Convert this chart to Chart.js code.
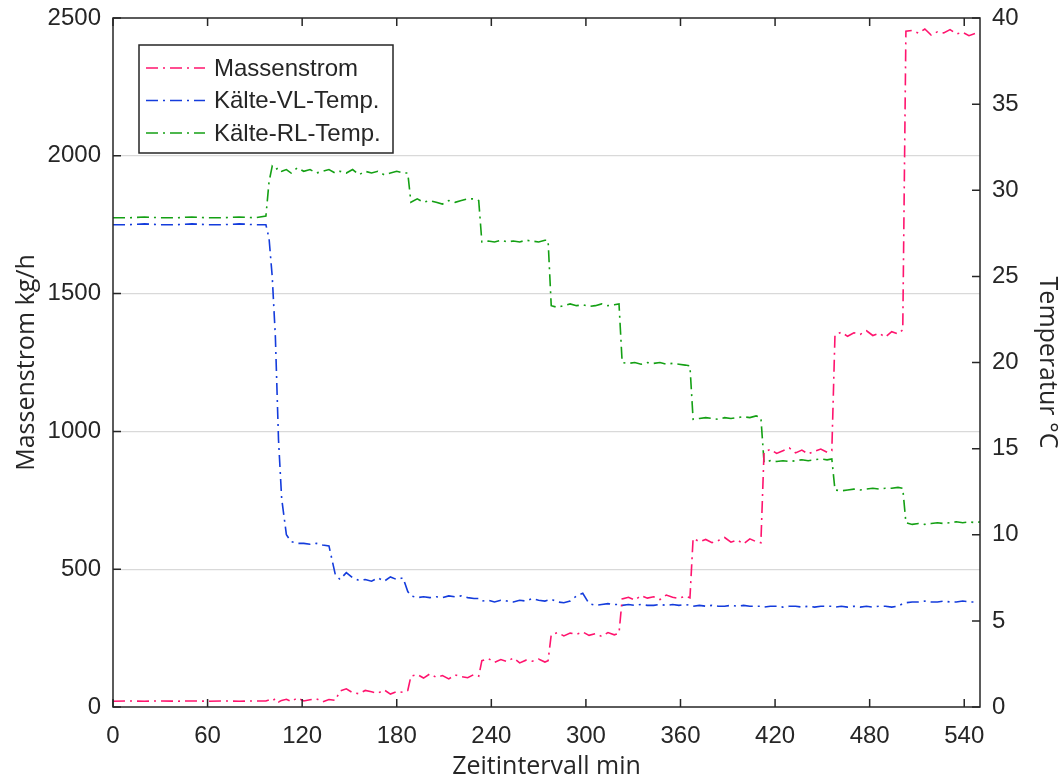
<!DOCTYPE html>
<html>
<head>
<meta charset="utf-8">
<script src="https://cdn.jsdelivr.net/npm/chart.js@4"></script>
<style>
  body { margin: 0; background: #fff; }
</style>
</head>
<body>
<canvas id="chart" width="1062" height="782"></canvas>
<script>
// Zeitachse in Minuten (gemeinsam für alle Reihen)
const zeit = [
  0, 10, 20, 30, 40, 50, 60, 70, 80, 90, 97,
  99, 101, 103, 105, 107, 110, 113, 117, 121, 125, 129, 133, 137, 141,
  144, 148, 152, 156, 160, 164, 168, 172, 176, 180, 184, 187,
  189, 193, 197, 201, 205, 209, 213, 217, 221, 225, 229, 232,
  234, 238, 242, 246, 250, 254, 258, 262, 266, 270, 274, 276,
  278, 282, 286, 290, 294, 298, 302, 306, 310, 314, 318, 321,
  323, 327, 331, 335, 339, 343, 347, 351, 355, 359, 363, 366,
  368, 372, 376, 380, 384, 388, 392, 396, 400, 404, 408, 411,
  413, 417, 421, 425, 429, 433, 437, 441, 445, 449, 453, 456,
  458, 462, 466, 470, 474, 478, 482, 486, 490, 494, 498, 501,
  503, 507, 511, 515, 519, 523, 527, 531, 535, 539, 543, 547, 550
];

// Massenstrom kg/h
const massenstrom = [
  21, 22, 21, 22, 21, 22, 21, 22, 21, 22, 22,
  26, 22, 30, 18, 24, 28, 20, 33, 22, 26, 30, 19, 27, 24,
  58, 66, 52, 48, 60, 55, 50, 62, 47, 56, 53, 60,
  112, 118, 105, 120, 108, 114, 102, 116, 110, 106, 118, 112,
  168, 176, 162, 172, 165, 178, 160, 170, 166, 174, 163, 168,
  262, 270, 258, 268, 264, 272, 260, 266, 256, 270, 262, 268,
  392, 398, 388, 404, 395, 400, 390, 406, 398, 394, 402, 396,
  612, 600, 608, 596, 604, 615, 598, 606, 592, 610, 600, 596,
  925, 935, 920, 930, 940, 922, 932, 918, 928, 936, 924, 930,
  1350, 1360, 1345, 1358, 1352, 1365, 1348, 1356, 1342, 1362, 1354, 1368,
  2452, 2455, 2445, 2460, 2438, 2450, 2446, 2458, 2442, 2448, 2436, 2444, 2440
];

// Kälte-Vorlauftemperatur °C
const vlTemp = [
  28.0, 28.0, 28.05, 28.0, 28.0, 28.05, 28.0, 28.0, 28.05, 28.0, 28.0,
  27.2, 25.0, 21.5, 15.5, 12.1, 10.0, 9.6, 9.5, 9.5, 9.45, 9.5, 9.4, 9.35,
  7.7, 7.4, 7.8, 7.5, 7.35, 7.4, 7.3, 7.5, 7.3, 7.55, 7.4, 7.5,
  6.7, 6.45, 6.35, 6.4, 6.35, 6.4, 6.35, 6.45, 6.4, 6.45, 6.35, 6.3,
  6.3, 6.15, 6.2, 6.1, 6.2, 6.15, 6.1, 6.2, 6.15, 6.3, 6.2, 6.15,
  6.2, 6.25, 6.1, 6.05, 6.15, 6.45, 6.6, 6.0, 5.9, 5.95, 6.0, 5.95,
  5.95, 5.9, 5.95, 5.9, 5.95, 5.9, 5.9, 5.95, 5.9, 5.95, 5.9, 5.95,
  5.9, 5.85, 5.9, 5.85, 5.9, 5.85, 5.85, 5.9, 5.85, 5.9, 5.85, 5.85,
  5.85, 5.8, 5.85, 5.85, 5.8, 5.85, 5.85, 5.8, 5.85, 5.8, 5.85, 5.85,
  5.85, 5.8, 5.85, 5.8, 5.85, 5.8, 5.85, 5.8, 5.85, 5.85, 5.8, 5.85,
  6.0, 6.05, 6.1, 6.1, 6.15, 6.1, 6.1, 6.15, 6.1, 6.1, 6.15, 6.1, 6.1
];

// Kälte-Rücklauftemperatur °C
const rlTemp = [
  28.4, 28.4, 28.45, 28.4, 28.4, 28.45, 28.4, 28.4, 28.45, 28.4, 28.5,
  30.5, 31.4, 31.2, 31.3, 31.1, 31.2, 31.0, 31.3, 31.1, 31.2, 31.0, 31.1, 31.2, 31.0,
  31.1, 31.0, 31.2, 30.9, 31.1, 31.0, 31.1, 30.9, 31.0, 31.1, 31.0, 31.0,
  29.3, 29.5, 29.3, 29.4, 29.3, 29.2, 29.4, 29.3, 29.4, 29.5, 29.5, 29.4,
  27.0, 27.05, 27.0, 27.1, 27.0, 27.05, 27.0, 27.1, 27.05, 27.0, 27.1, 27.1,
  23.3, 23.2, 23.3, 23.4, 23.3, 23.35, 23.25, 23.3, 23.4, 23.3, 23.35, 23.4,
  20.0, 19.95, 20.0, 19.9, 20.0, 19.95, 20.0, 19.9, 19.95, 19.9, 19.85, 19.8,
  16.7, 16.75, 16.8, 16.75, 16.7, 16.8, 16.75, 16.8, 16.85, 16.8, 16.9, 16.8,
  14.2, 14.3, 14.25, 14.3, 14.25, 14.3, 14.35, 14.3, 14.35, 14.4, 14.35, 14.4,
  12.6, 12.55, 12.6, 12.65, 12.6, 12.65, 12.7, 12.65, 12.7, 12.7, 12.75, 12.7,
  10.7, 10.6, 10.65, 10.6, 10.65, 10.7, 10.65, 10.7, 10.75, 10.7, 10.75, 10.7, 10.75
];

const reihenNamen = ['Massenstrom', 'Kälte-VL-Temp.', 'Kälte-RL-Temp.'];

// Achsenbeschriftungen
const zeitTicks = [0, 60, 120, 180, 240, 300, 360, 420, 480, 540];

const achsFarbe = '#262626';
const tickFont = { family: 'Arial, "Liberation Sans", sans-serif', size: 24 };
const titelFont = { family: '"Open Sans", sans-serif', size: 25 };
const strichPunkt = [12, 5, 2, 5];

const punkte = werte => zeit.map((t, i) => ({ x: t, y: werte[i] }));

// Rahmen und nach innen zeigende Ticks wie bei MATLAB
const rahmenPlugin = {
  id: 'rahmen',
  afterDatasetsDraw(chart) {
    const { ctx, chartArea: a, scales } = chart;
    const len = 8;
    ctx.save();
    ctx.strokeStyle = achsFarbe;
    ctx.lineWidth = 1.5;
    ctx.strokeRect(a.left, a.top, a.right - a.left, a.bottom - a.top);
    ctx.beginPath();
    scales.x.ticks.forEach(t => {
      const px = scales.x.getPixelForValue(t.value);
      ctx.moveTo(px, a.bottom); ctx.lineTo(px, a.bottom - len);
      ctx.moveTo(px, a.top); ctx.lineTo(px, a.top + len);
    });
    scales.y.ticks.forEach(t => {
      const py = scales.y.getPixelForValue(t.value);
      ctx.moveTo(a.left, py); ctx.lineTo(a.left + len, py);
    });
    scales.y1.ticks.forEach(t => {
      const py = scales.y1.getPixelForValue(t.value);
      ctx.moveTo(a.right, py); ctx.lineTo(a.right - len, py);
    });
    ctx.stroke();
    ctx.restore();
  }
};

// Legende mit Kasten oben links im Diagramm
const legendePlugin = {
  id: 'legende',
  afterDraw(chart) {
    const { ctx, chartArea: a } = chart;
    const x0 = a.left + 26, y0 = a.top + 27, w = 254, h = 108;
    ctx.save();
    ctx.fillStyle = '#fff';
    ctx.fillRect(x0, y0, w, h);
    ctx.strokeStyle = achsFarbe;
    ctx.lineWidth = 1.5;
    ctx.strokeRect(x0, y0, w, h);
    ctx.font = '24px Arial, "Liberation Sans", sans-serif';
    ctx.textBaseline = 'middle';
    chart.data.datasets.forEach((ds, i) => {
      const y = y0 + 23 + i * 32.5;
      ctx.strokeStyle = ds.borderColor;
      ctx.lineWidth = ds.borderWidth;
      ctx.setLineDash(ds.borderDash);
      ctx.beginPath();
      ctx.moveTo(x0 + 7, y);
      ctx.lineTo(x0 + 66, y);
      ctx.stroke();
      ctx.setLineDash([]);
      ctx.fillStyle = achsFarbe;
      ctx.fillText(ds.label, x0 + 75, y + 1);
    });
    ctx.restore();
  }
};

new Chart(document.getElementById('chart').getContext('2d'), {
  type: 'line',
  data: {
    datasets: [
      {
        label: reihenNamen[0],
        data: punkte(massenstrom),
        yAxisID: 'y',
        borderColor: 'rgb(255, 20, 110)',
        borderWidth: 1.6,
        borderDash: strichPunkt,
        pointRadius: 0,
        tension: 0
      },
      {
        label: reihenNamen[1],
        data: punkte(vlTemp),
        yAxisID: 'y1',
        borderColor: 'rgb(20, 60, 220)',
        borderWidth: 1.6,
        borderDash: strichPunkt,
        pointRadius: 0,
        tension: 0
      },
      {
        label: reihenNamen[2],
        data: punkte(rlTemp),
        yAxisID: 'y1',
        borderColor: 'rgb(20, 160, 20)',
        borderWidth: 1.6,
        borderDash: strichPunkt,
        pointRadius: 0,
        tension: 0
      }
    ]
  },
  options: {
    responsive: false,
    animation: false,
    layout: { padding: { top: 18, left: 0, right: 0, bottom: 0 } },
    plugins: {
      legend: { display: false },
      tooltip: { enabled: false }
    },
    scales: {
      x: {
        type: 'linear',
        min: 0,
        max: 550,
        grid: { display: false, drawTicks: false },
        border: { display: false },
        ticks: { color: achsFarbe, font: tickFont, padding: 15, maxRotation: 0, autoSkip: false },
        afterBuildTicks: s => { s.ticks = zeitTicks.map(v => ({ value: v })); },
        title: { display: true, text: 'Zeitintervall min', color: achsFarbe, font: titelFont, padding: { top: 0, bottom: 0 } },
        afterFit: s => { s.height = 75; }
      },
      y: {
        position: 'left',
        min: 0,
        max: 2500,
        grid: {
          drawTicks: false,
          color: c => (c.tick.value === 0 || c.tick.value === 2500) ? 'rgba(0,0,0,0)' : '#d9d9d9',
          lineWidth: 1.2
        },
        border: { display: false },
        ticks: { stepSize: 500, color: achsFarbe, font: tickFont, padding: 12, callback: v => String(v) },
        title: { display: true, text: 'Massenstrom kg/h', color: achsFarbe, font: titelFont, padding: { top: 12, bottom: 0 } },
        afterFit: s => { s.width = 113; s.paddingTop = 0; s.paddingBottom = 0; }
      },
      y1: {
        position: 'right',
        min: 0,
        max: 40,
        grid: { display: false, drawTicks: false },
        border: { display: false },
        ticks: { stepSize: 5, color: achsFarbe, font: tickFont, padding: 12, callback: v => String(v) },
        title: { display: true, text: 'Temperatur °C', color: achsFarbe, font: titelFont, padding: { top: 0, bottom: 0 } },
        afterFit: s => { s.width = 82; s.paddingTop = 0; s.paddingBottom = 0; }
      }
    }
  },
  plugins: [rahmenPlugin, legendePlugin]
});
</script>
</body>
</html>
